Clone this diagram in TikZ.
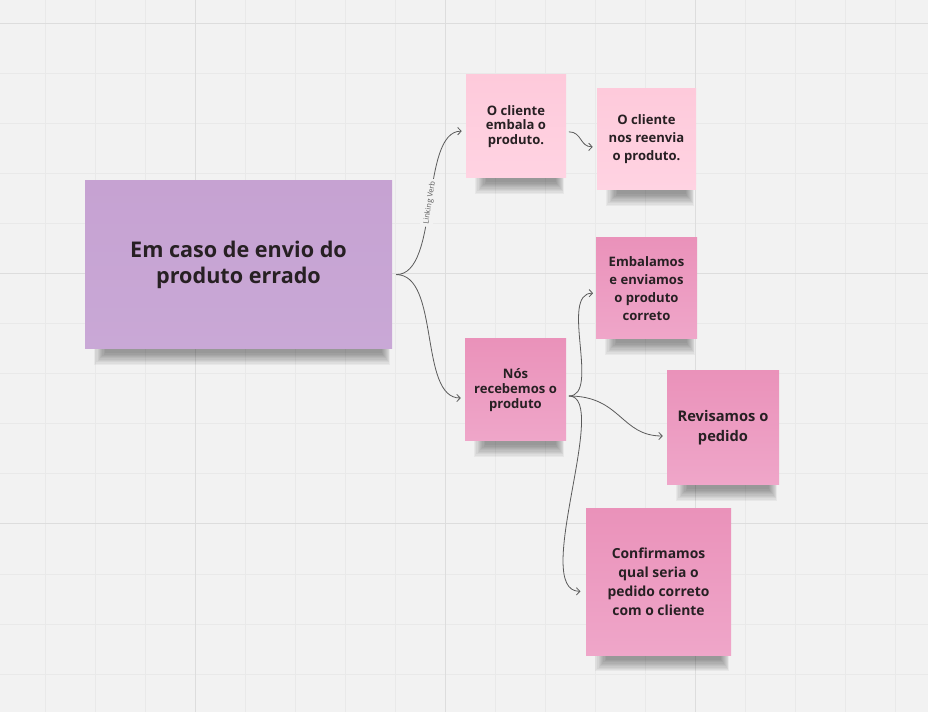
\documentclass[tikz,border=0pt]{standalone}
\usepackage{fontspec}
\setmainfont{Open Sans}
\usetikzlibrary{arrows.meta,backgrounds,calc}
\definecolor{board}{HTML}{F2F2F2}
\definecolor{gridminor}{HTML}{E9E9E9}
\definecolor{gridmajor}{HTML}{DDDDDD}
\definecolor{ink}{HTML}{272023}
\definecolor{wire}{HTML}{5A5A5A}
\definecolor{lilac}{HTML}{C6A2D2}
\definecolor{lilaclow}{HTML}{C9A8D6}
\definecolor{blush}{HTML}{FECADB}
\definecolor{blushlow}{HTML}{FFD3E2}
\definecolor{rose}{HTML}{EA92BA}
\definecolor{roselow}{HTML}{EFA6C9}
\newcommand\postshadow[1]{%
  \foreach \g in {1,...,10}
    \fill[black,opacity=0.045] ($(#1.south west)+(8+1.2*\g,-10+\g)$) rectangle ($(#1.south east)+(-1-0.9*\g,17-1.3*\g)$);
}
\begin{document}
\begin{tikzpicture}
    [x=0.75pt, y=-0.75pt,
    note/.style = {align=center, text=ink, inner sep=0pt,
                   font=\bfseries\fontsize{9.8}{13.5}\selectfont},
    tight/.style = {font=\bfseries\fontsize{9.8}{11}\selectfont},
    blushnote/.style = {note, top color=blush, bottom color=blushlow},
    rosenote/.style = {note, top color=rose, bottom color=roselow},
    link/.style = {wire, line width=0.6pt,
                   -{Straight Barb[length=2.6pt,width=5.5pt]}}]
    \useasboundingbox (0,0) rectangle (928,712);
    \node[note, top color=lilac, bottom color=lilaclow,
          minimum width=230.25pt, minimum height=126pt,
          font=\bfseries\fontsize{16.2}{19.5}\selectfont]
          (errado) at (238.5,265) {Em caso de envio do\\produto errado};
    \node[blushnote, tight, minimum width=75pt, minimum height=77.25pt]
          (embala) at (516,126.5) {O cliente\\embala o\\produto.};
    \node[blushnote, minimum width=74.25pt, minimum height=75.75pt]
          (reenvia) at (646.5,139.5) {O cliente\\nos reenvia\\o produto.};
    \node[rosenote, minimum width=75.75pt, minimum height=75.75pt]
          (embalamos) at (646.5,288.5) {Embalamos\\e enviamos\\o produto\\correto};
    \node[rosenote, tight, minimum width=75.75pt, minimum height=76.5pt]
          (recebemos) at (515.5,390) {Nós\\recebemos o\\produto};
    \node[rosenote, minimum width=84pt, minimum height=85.5pt,
          font=\bfseries\fontsize{11}{15}\selectfont]
          (revisamos) at (723,428) {Revisamos o\\pedido};
    \node[rosenote, minimum width=108.75pt, minimum height=110.25pt,
          font=\bfseries\fontsize{10.4}{14.2}\selectfont]
          (confirmamos) at (658.5,582) {Confirmamos\\qual seria o\\pedido correto\\com o cliente};
    \begin{scope}[on background layer]
        \fill[board] (0,0) rectangle (928,712);
        \foreach \k in {0,...,17}
            \draw[gridminor, line width=0.75pt] (45.5+50*\k,0) -- (45.5+50*\k,712);
        \foreach \k in {0,...,14}
            \draw[gridminor, line width=0.75pt] (0,24+50*\k) -- (928,24+50*\k);
        \foreach \k in {0,1,2}
            \draw[gridmajor, line width=0.75pt] (195.5+250*\k,0) -- (195.5+250*\k,712)
                                                 (0,24+250*\k) -- (928,24+250*\k);
        \postshadow{errado}
        \postshadow{embala}
        \postshadow{reenvia}
        \postshadow{embalamos}
        \postshadow{recebemos}
        \postshadow{revisamos}
        \postshadow{confirmamos}
    \end{scope}
    \draw[link] ([xshift=3pt,yshift=-7.2pt]errado.east) .. controls +(44,0) and +(-42,0)
        .. ([xshift=-3pt,yshift=-3.5pt]embala.west)
        node[midway, sloped, fill=board, inner sep=2pt, text=wire,
             font=\fontsize{5.6}{6}\selectfont] {Linking Verb};
    \draw[link] ([xshift=3pt,yshift=-7.2pt]errado.east) .. controls +(44,0) and +(-42,0)
        .. ([xshift=-3pt,yshift=-6pt]recebemos.west);
    \draw[link] ([xshift=2pt,yshift=-4pt]embala.east) .. controls +(13,0) and +(-13,0)
        .. ([xshift=-3pt,yshift=-5.5pt]reenvia.west);
    \draw[link] ([xshift=2pt,yshift=-4.5pt]recebemos.east) .. controls +(32,0) and +(-34,0)
        .. ([xshift=-2pt,yshift=-3.5pt]embalamos.west);
    \draw[link] ([xshift=2pt,yshift=-4.5pt]recebemos.east) .. controls +(52,0) and +(-42,0)
        .. ([xshift=-3pt,yshift=-6pt]revisamos.west);
    \draw[link] ([xshift=2pt,yshift=-4.5pt]recebemos.east) .. controls +(42,0) and +(-50,0)
        .. ([xshift=-4pt,yshift=-7pt]confirmamos.west);
\end{tikzpicture}
\end{document}
